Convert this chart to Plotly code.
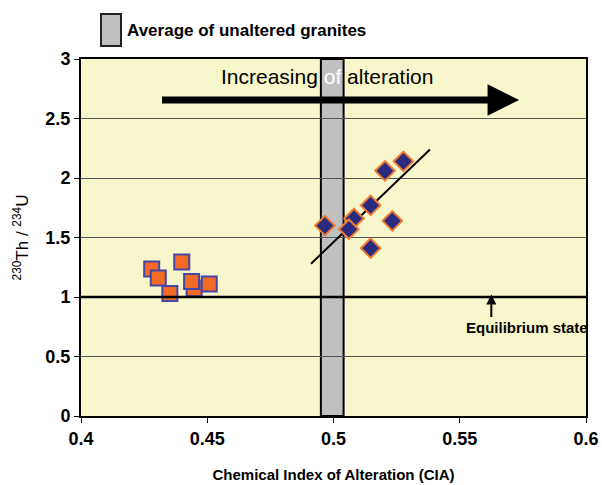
import plotly.graph_objects as go

# Altered granites (CIA vs activity ratio)
altered_cia = [0.4966, 0.5081, 0.5061, 0.5147, 0.5233, 0.5147, 0.5204, 0.5277]
altered_ratio = [1.60, 1.66, 1.57, 1.77, 1.64, 1.41, 2.06, 2.14]

# Second sample group
group2_cia = [0.4448, 0.4280, 0.4306, 0.4352, 0.4399, 0.4438, 0.4508]
group2_ratio = [1.07, 1.235, 1.16, 1.03, 1.295, 1.13, 1.11]

# Linear trend through the altered samples (end points)
trend_cia = [0.4911, 0.5382]
trend_ratio = [1.28, 2.24]

# Band for the average of unaltered granites
band_cia = [0.495, 0.504]
equilibrium = 1.0

x_ticks = [0.4, 0.45, 0.5, 0.55, 0.6]
x_tick_text = ["0.4", "0.45", "0.5", "0.55", "0.6"]
y_ticks = [0, 0.5, 1, 1.5, 2, 2.5, 3]
y_tick_text = ["0", "0.5", "1", "1.5", "2", "2.5", "3"]

FONT = "Liberation Sans, Arial, sans-serif"

L, R, T, B = 81, 16, 59, 69
PW, PH = 602 - L - R, 485 - T - B


def px(x):
    return (x - L) / PW


def py(y):
    return (485 - B - y) / PH


fig = go.Figure()

fig.add_trace(go.Scatter(
    x=group2_cia, y=group2_ratio, mode="markers",
    marker=dict(symbol="square", size=15, color="#F26A24",
                line=dict(color="#4447A8", width=2)),
    showlegend=False, hoverinfo="skip"))

fig.add_trace(go.Scatter(
    x=trend_cia, y=trend_ratio, mode="lines",
    line=dict(color="black", width=2), showlegend=False, hoverinfo="skip"))

fig.add_trace(go.Scatter(
    x=altered_cia, y=altered_ratio, mode="markers",
    marker=dict(symbol="diamond", size=15, color="#2A2A7E",
                line=dict(color="#F07A30", width=2)),
    showlegend=False, hoverinfo="skip"))

shapes = [
    # unaltered granite band
    dict(type="rect", xref="x", yref="y", x0=band_cia[0], x1=band_cia[1],
         y0=0, y1=3, fillcolor="#C0C0C0", line=dict(color="black", width=2),
         layer="below"),
    # equilibrium line
    dict(type="line", xref="x", yref="y", x0=0.4, x1=0.6,
         y0=equilibrium, y1=equilibrium, line=dict(color="black", width=2.5)),
    # legend swatch
    dict(type="rect", xref="paper", yref="paper",
         x0=px(101), x1=px(121), y0=py(46), y1=py(14),
         fillcolor="#C0C0C0", line=dict(color="#222222", width=2)),
]

annotations = [
    dict(text="Average of unaltered granites", xref="paper", yref="paper",
         x=px(125), y=py(30), xanchor="left", yanchor="middle",
         showarrow=False, font=dict(family=FONT, size=17, color="black",
                                    weight="bold")),
    dict(text="Increasing <span style='color:white'>of</span> alteration",
         xref="paper", yref="paper", x=px(327), y=py(76),
         xanchor="center", yanchor="middle", showarrow=False,
         font=dict(family=FONT, size=21, color="black")),
    # direction of alteration arrow
    dict(x=0.5735, y=2.655, ax=0.4315, ay=2.655, xref="x", yref="y",
         axref="x", ayref="y", text="", showarrow=True, arrowhead=2,
         arrowsize=0.9, arrowwidth=7, arrowcolor="black"),
    # equilibrium label
    dict(text="Equilibrium state", xref="x", yref="y", x=0.5765, y=0.74,
         xanchor="center", yanchor="middle", showarrow=False,
         font=dict(family=FONT, size=15, color="black", weight="bold")),
    dict(x=0.5625, y=1.02, ax=0.5625, ay=0.82, xref="x", yref="y",
         axref="x", ayref="y", text="", showarrow=True, arrowhead=2,
         arrowsize=1, arrowwidth=2, arrowcolor="black"),
]

fig.update_layout(
    width=602, height=485,
    margin=dict(l=L, r=R, t=T, b=B, autoexpand=False),
    paper_bgcolor="white", plot_bgcolor="#F8F6CB",
    shapes=shapes, annotations=annotations,
    font=dict(family=FONT, color="black"),
    xaxis=dict(range=[0.4, 0.6], tickvals=x_ticks, ticktext=x_tick_text,
               automargin=False,
               showgrid=False, zeroline=False, showline=True, mirror=True,
               linecolor="black", linewidth=2, ticks="outside", ticklen=5,
               tickcolor="black",
               tickfont=dict(family=FONT, size=18, weight="bold"),
               title=dict(text="Chemical Index of Alteration (CIA)",
                          font=dict(family=FONT, size=15, weight="bold"),
                          standoff=22)),
    yaxis=dict(range=[0, 3], tickvals=y_ticks, ticktext=y_tick_text,
               automargin=False,
               showgrid=True, gridcolor="#555555", gridwidth=1,
               zeroline=False, showline=True, mirror=True,
               linecolor="black", linewidth=2, ticks="outside", ticklen=5,
               tickcolor="black",
               tickfont=dict(family=FONT, size=18, weight="bold"),
               title=dict(text="<sup>230</sup>Th / <sup>234</sup>U",
                          font=dict(family=FONT, size=17), standoff=12)),
)

fig.write_html("out.html")
